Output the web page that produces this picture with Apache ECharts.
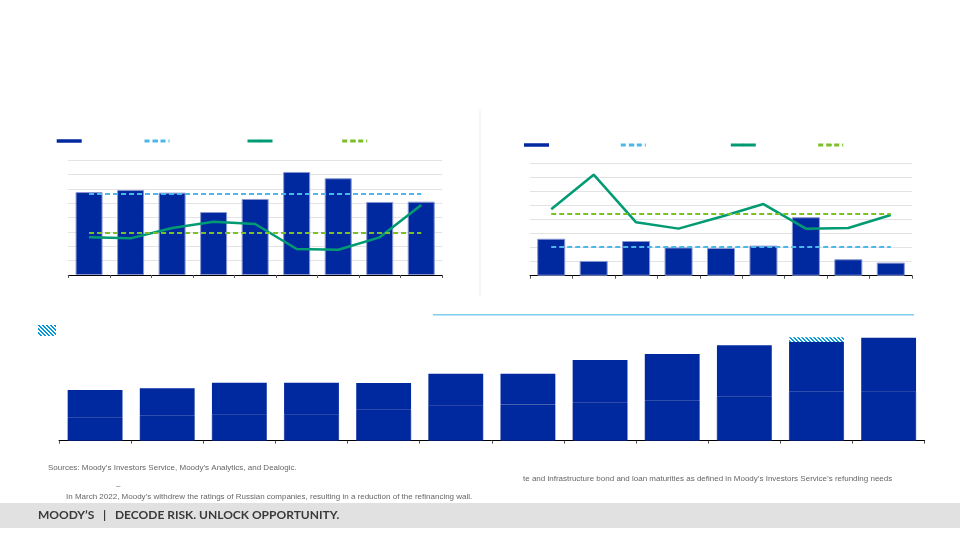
<!DOCTYPE html>
<html><head><meta charset="utf-8">
<script src="https://cdn.jsdelivr.net/npm/echarts@6/dist/echarts.min.js"></script>
<style>html,body{margin:0;padding:0;background:#fff}#c{width:960px;height:540px}</style>
</head><body><div id="c"></div>
<script>
// ---- data ----
const leftCats = ['1','2','3','4','5','6','7','8','9'];
const leftBars = [5.77, 5.91, 5.73, 4.38, 5.29, 7.17, 6.73, 5.08, 5.10];
const leftLine = [2.62, 2.55, 3.27, 3.71, 3.55, 1.81, 1.76, 2.62, 4.87];
const rightCats = ['1','2','3','4','5','6','7','8','9'];
const rightBars = [2.63, 1.05, 2.47, 2.01, 1.97, 2.14, 4.16, 1.17, 0.93];
const rightLine = [4.73, 7.19, 3.80, 3.35, 4.20, 5.10, 3.35, 3.40, 4.32];
const bottomCats = ['1','2','3','4','5','6','7','8','9','10','11','12'];
const bottomLower = [19.5, 20.8, 22.3, 22.3, 26.2, 29.8, 30.3, 32.0, 33.3, 36.7, 40.8, 41.4];
const bottomUpper = [22.8, 22.9, 26.0, 26.0, 21.9, 26.0, 25.5, 35.3, 39.0, 42.8, 41.5, 44.4];
const bottomHatch = [null, null, null, null, null, null, null, null, null, null, 3.9, null];
const sourceText = 'Sources: Moody\u2019s Investors Service, Moody\u2019s Analytics, and Dealogic.';
const noteText1 = 'te and infrastructure bond and loan maturities as defined in Moody\u2019s Investors Service\u2019s refunding needs';
const noteText2 = 'In March 2022, Moody\u2019s withdrew the ratings of Russian companies, resulting in a reduction of the refinancing wall.';
const footerText = 'MOODY\u2019S   |   DECODE RISK. UNLOCK OPPORTUNITY.';

// ---- styles ----
const NAVY = '#00299F', LBLUE = '#4DB7E8', GREEN = '#009B72', YGREEN = '#7CBF2A';
const mean = a => a.reduce((s, v) => s + v, 0) / a.length;

const pc = document.createElement('canvas');
pc.width = 4; pc.height = 4;
const pctx = pc.getContext('2d');
pctx.fillStyle = '#ffffff'; pctx.fillRect(0, 0, 4, 4);
pctx.fillStyle = '#0098DA';
[[0,0],[1,0],[1,1],[2,1],[2,2],[3,2],[3,3],[0,3]].forEach(p => pctx.fillRect(p[0], p[1], 1, 1));
const hatch = { image: pc, repeat: 'repeat' };

function xAx(idx, cats) {
  return { type: 'category', gridIndex: idx, data: cats,
    axisLine: { lineStyle: { color: '#000', width: 1 } },
    axisTick: { show: true, length: 3, lineStyle: { color: '#555' } },
    axisLabel: { show: false } };
}
function yAx(idx, max, split) {
  return { type: 'value', gridIndex: idx, min: 0, max: max, interval: split ? 1 : max,
    axisLine: { show: false }, axisTick: { show: false }, axisLabel: { show: false },
    splitLine: { show: split, lineStyle: { color: '#E3E3E3', width: 1 } } };
}
function avgLine(cats, arr, color) {
  const m = mean(arr);
  return { symbol: 'none', silent: true, label: { show: false },
    lineStyle: { color: color, type: [5, 3], width: 2 },
    data: [[{ coord: [cats[0], m] }, { coord: [cats[cats.length - 1], m] }]] };
}
function leg(name, left, cy, h, icon) {
  const o = { data: [name], left: left, top: cy - h / 2, itemWidth: 25, itemHeight: h,
    formatter: () => '', selectedMode: false, padding: 0, itemGap: 0,
    itemStyle: { borderWidth: 0 }, lineStyle: { width: 3 } };
  if (icon) o.icon = icon;
  return o;
}
const barBorder = { borderColor: '#8A97D2', borderWidth: 1 };

const chart = echarts.init(document.getElementById('c'), null, { renderer: 'canvas' });
chart.setOption({
  animation: false,
  grid: [
    { left: 68.3, right: 518, top: 160, bottom: 265 },
    { left: 530, right: 48, top: 163.3, bottom: 264.3 },
    { left: 59, right: 35.3, top: 320.7, bottom: 99.3 }
  ],
  xAxis: [xAx(0, leftCats), xAx(1, rightCats), xAx(2, bottomCats)],
  yAxis: [yAx(0, 8, true), yAx(1, 8, true), yAx(2, 100, false)],
  legend: [
    leg('L-bar', 56.7, 141, 3.5, 'rect'),
    leg('L-baravg', 143, 141, 3),
    leg('L-line', 246, 141, 3),
    leg('L-lineavg', 340.7, 141, 3),
    leg('R-bar', 524, 145, 3.5, 'rect'),
    leg('R-baravg', 619.3, 145, 3),
    leg('R-line', 729.3, 145, 3),
    leg('R-lineavg', 816.7, 145, 3),
    { data: ['B-hatch'], left: 38, top: 325, itemWidth: 18, itemHeight: 11, icon: 'rect',
      formatter: () => '', selectedMode: false, padding: 0 }
  ],
  series: [
    { name: 'L-bar', type: 'bar', xAxisIndex: 0, yAxisIndex: 0, data: leftBars, barWidth: '65%',
      itemStyle: Object.assign({ color: NAVY }, barBorder), z: 2 },
    { name: 'L-baravg', type: 'line', xAxisIndex: 0, yAxisIndex: 0, data: [], symbol: 'none',
      color: LBLUE, lineStyle: { color: LBLUE, type: [5, 3], width: 2 },
      markLine: avgLine(leftCats, leftBars, LBLUE), z: 3 },
    { name: 'L-line', type: 'line', xAxisIndex: 0, yAxisIndex: 0, data: leftLine, symbol: 'none',
      color: GREEN, lineStyle: { color: GREEN, width: 2.5 }, z: 4 },
    { name: 'L-lineavg', type: 'line', xAxisIndex: 0, yAxisIndex: 0, data: [], symbol: 'none',
      color: YGREEN, lineStyle: { color: YGREEN, type: [5, 3], width: 2 },
      markLine: avgLine(leftCats, leftLine, YGREEN), z: 3 },

    { name: 'R-bar', type: 'bar', xAxisIndex: 1, yAxisIndex: 1, data: rightBars, barWidth: '66%',
      itemStyle: Object.assign({ color: NAVY }, barBorder), z: 2 },
    { name: 'R-baravg', type: 'line', xAxisIndex: 1, yAxisIndex: 1, data: [], symbol: 'none',
      color: LBLUE, lineStyle: { color: LBLUE, type: [5, 3], width: 2 },
      markLine: avgLine(rightCats, rightBars, LBLUE), z: 3 },
    { name: 'R-line', type: 'line', xAxisIndex: 1, yAxisIndex: 1, data: rightLine, symbol: 'none',
      color: GREEN, lineStyle: { color: GREEN, width: 2.5 }, z: 4 },
    { name: 'R-lineavg', type: 'line', xAxisIndex: 1, yAxisIndex: 1, data: [], symbol: 'none',
      color: YGREEN, lineStyle: { color: YGREEN, type: [5, 3], width: 2 },
      markLine: avgLine(rightCats, rightLine, YGREEN), z: 3 },

    { name: 'B-lower', type: 'bar', xAxisIndex: 2, yAxisIndex: 2, stack: 'b', data: bottomLower, barWidth: '76%',
      itemStyle: { color: NAVY, borderColor: '#0A2790', borderWidth: 0.6 } },
    { name: 'B-upper', type: 'bar', xAxisIndex: 2, yAxisIndex: 2, stack: 'b', data: bottomUpper,
      itemStyle: { color: NAVY, borderWidth: 0 } },
    { name: 'B-hatch', type: 'bar', xAxisIndex: 2, yAxisIndex: 2, stack: 'b', data: bottomHatch,
      itemStyle: { color: hatch } }
  ],
  graphic: [
    { type: 'line', shape: { x1: 480, y1: 110, x2: 480, y2: 296 }, style: { stroke: '#D8D8D8', lineWidth: 1, lineDash: [1, 1] } },
    { type: 'line', shape: { x1: 433, y1: 314.7, x2: 914, y2: 314.7 }, style: { stroke: '#7DCFF0', lineWidth: 1.5 } },
    { type: 'text', left: 48, top: 463.5, style: { text: sourceText, font: '8px "Liberation Sans", Arial, sans-serif', fill: '#666' } },
    { type: 'text', left: 523, top: 474.5, style: { text: noteText1, font: '8px "Liberation Sans", Arial, sans-serif', fill: '#666' } },
    { type: 'text', left: 116, top: 481.5, style: { text: '\u2013', font: '8px "Liberation Sans", Arial, sans-serif', fill: '#666' } },
    { type: 'text', left: 66, top: 492.5, style: { text: noteText2, font: '8px "Liberation Sans", Arial, sans-serif', fill: '#666' } },
    { type: 'rect', shape: { x: 0, y: 503, width: 960, height: 25 }, style: { fill: '#E1E1E1' }, z: -1 },
    { type: 'text', left: 38, top: 509, style: { text: footerText, font: 'bold 12px Lato, "Liberation Sans", sans-serif', fill: '#3A3A3A' } }
  ]
});
</script></body></html>
